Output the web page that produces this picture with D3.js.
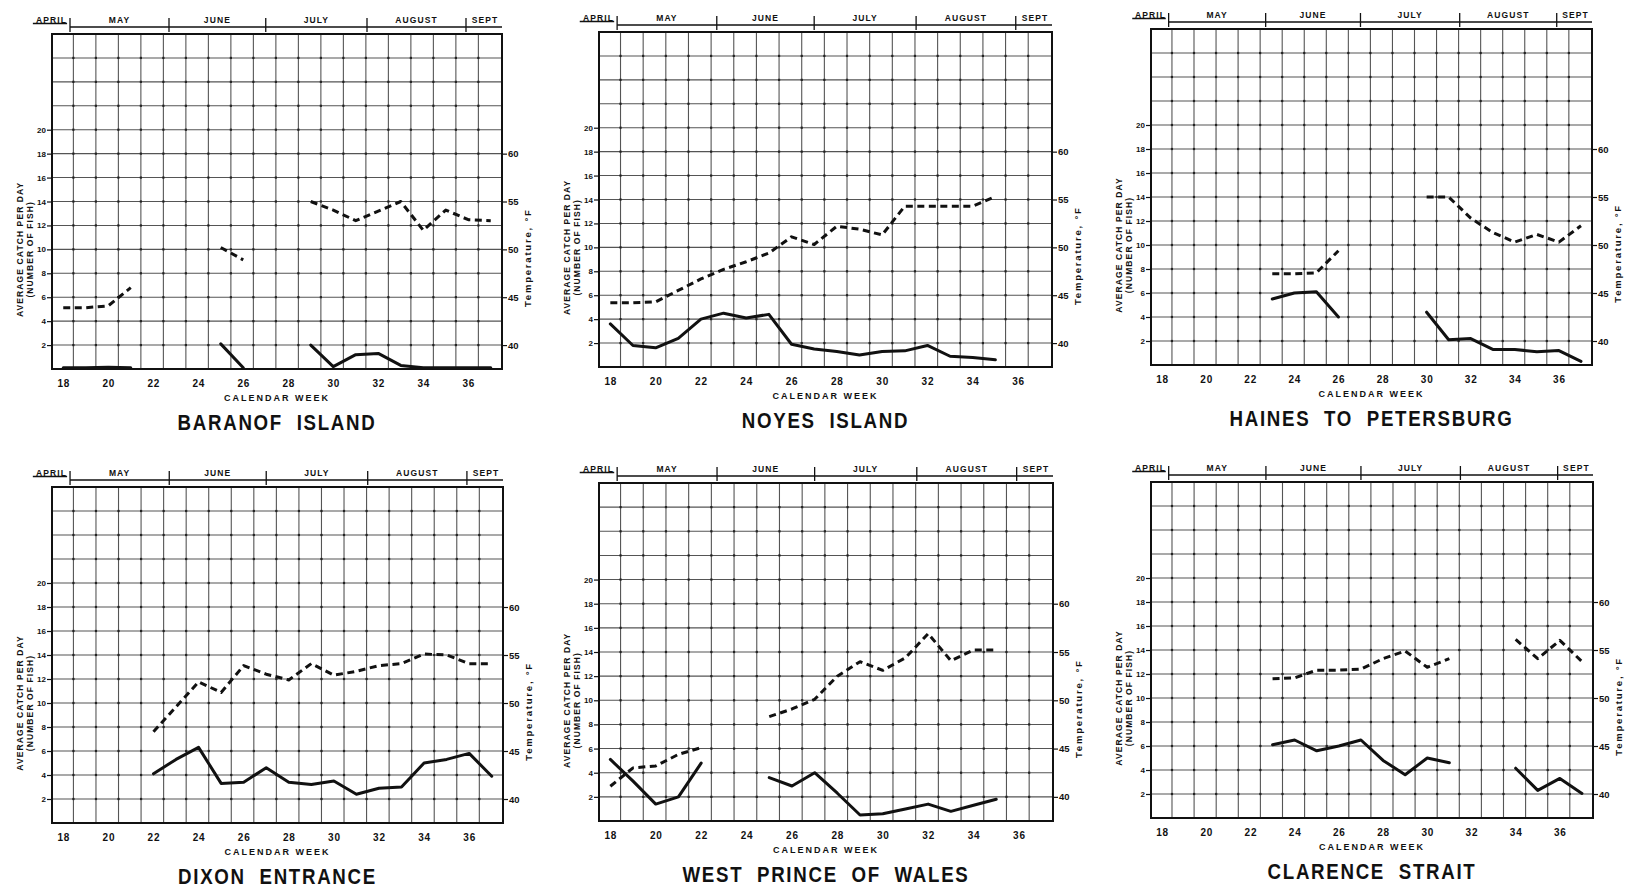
<!DOCTYPE html>
<html>
<head>
<meta charset="utf-8">
<script src="https://cdn.jsdelivr.net/npm/d3@7"></script>
<style>
  html, body { margin: 0; padding: 0; background: #fff; }
  svg { display: block; }
  text { font-family: "Liberation Sans", Arial, sans-serif; font-weight: bold; fill: #111; }
</style>
</head>
<body>
<svg id="chart" width="1633" height="887"></svg>
<script>
// ---- data ---------------------------------------------------------------
// Calendar weeks 18..37; null = no observation for that week.
const weeks = [18, 19, 20, 21, 22, 23, 24, 25, 26, 27, 28, 29, 30, 31, 32, 33, 34, 35, 36, 37];
const weekTicks = [18, 20, 22, 24, 26, 28, 30, 32, 34, 36];
const catchTicks = [2, 4, 6, 8, 10, 12, 14, 16, 18, 20];
const catchGrid = [2, 4, 6, 8, 10, 12, 14, 16, 18, 20, 22, 24, 26];
const tempTicks = [40, 45, 50, 55, 60];
const months = ["APRIL", "MAY", "JUNE", "JULY", "AUGUST", "SEPT"];
// month boundaries expressed in calendar weeks
const monthEdges = [16.65, 18.3, 22.7, 27.0, 31.5, 35.9, 37.6];

const regions = ["BARANOF ISLAND", "NOYES ISLAND", "HAINES TO PETERSBURG",
                 "DIXON ENTRANCE", "WEST PRINCE OF WALES", "CLARENCE STRAIT"];

// average catch per day (number of fish)
const baranofCatch  = [0.1, 0.1, 0.15, 0.1, null, null, null, 2.1, 0.1, null, null, 2.0, 0.2, 1.2, 1.3, 0.3, 0.1, 0.1, 0.1, 0.1];
const noyesCatch    = [3.6, 1.8, 1.6, 2.4, 4.0, 4.5, 4.1, 4.4, 1.9, 1.5, 1.3, 1.0, 1.3, 1.35, 1.8, 0.9, 0.8, 0.6, null, null];
const hainesCatch   = [null, null, null, null, null, 5.5, 6.0, 6.1, 4.0, null, null, null, 4.4, 2.1, 2.2, 1.3, 1.3, 1.1, 1.2, 0.3];
const dixonCatch    = [null, null, null, null, 4.1, 5.3, 6.3, 3.3, 3.4, 4.6, 3.4, 3.2, 3.5, 2.4, 2.9, 3.0, 5.0, 5.3, 5.8, 3.9];
const westPowCatch  = [5.1, 3.3, 1.4, 2.0, 4.8, null, null, 3.6, 2.9, 4.0, 2.3, 0.5, 0.6, 1.0, 1.4, 0.8, 1.3, 1.8, null, null];
const clarenceCatch = [null, null, null, null, null, 6.1, 6.5, 5.6, 6.0, 6.5, 4.8, 3.6, 5.0, 4.6, null, null, 4.15, 2.3, 3.3, 2.05];

// water temperature, degrees F
const baranofTemp  = [43.9, 43.9, 44.1, 46.0, null, null, null, 50.2, 48.9, null, null, 55.0, 54.1, 53.0, 54.0, 55.0, 52.0, 54.1, 53.1, 53.0];
const noyesTemp    = [44.2, 44.2, 44.3, 45.5, 46.7, 47.7, 48.5, 49.4, 51.1, 50.3, 52.2, 51.9, 51.3, 54.3, 54.3, 54.3, 54.3, 55.3, null, null];
const hainesTemp   = [null, null, null, null, null, 47.0, 47.0, 47.1, 49.4, null, null, null, 55.0, 55.0, 52.8, 51.3, 50.3, 51.1, 50.3, 52.0];
const dixonTemp    = [null, null, null, null, 47.0, 49.6, 52.2, 51.1, 53.9, 53.0, 52.4, 54.1, 52.9, 53.3, 53.9, 54.1, 55.1, 55.0, 54.1, 54.1];
const westPowTemp  = [41.1, 43.0, 43.2, 44.4, 45.1, null, null, 48.3, 49.1, 50.1, 52.5, 54.0, 53.1, 54.4, 56.9, 54.1, 55.2, 55.2, null, null];
const clarenceTemp = [null, null, null, null, null, 52.0, 52.1, 52.9, 52.9, 53.0, 54.1, 54.9, 53.2, 54.1, null, null, 56.1, 54.1, 56.0, 53.8];

const catchSeries = [baranofCatch, noyesCatch, hainesCatch, dixonCatch, westPowCatch, clarenceCatch];
const tempSeries  = [baranofTemp, noyesTemp, hainesTemp, dixonTemp, westPowTemp, clarenceTemp];

// ---- layout -------------------------------------------------------------
const frames = [
  { x: 52,   y: 34,  w: 450, h: 335 },
  { x: 599,  y: 32,  w: 453, h: 335 },
  { x: 1151, y: 29,  w: 441, h: 336 },
  { x: 52,   y: 487, w: 451, h: 336 },
  { x: 599,  y: 483, w: 454, h: 338 },
  { x: 1151, y: 482, w: 442, h: 336 }
];

const svg = d3.select("#chart");
const INK = "#111";

function drawPanel(i) {
  const F = frames[i];
  const g = svg.append("g");
  const x = d3.scaleLinear().domain([17.5, 37.5]).range([F.x, F.x + F.w]);
  const y = d3.scaleLinear().domain([0, 28]).range([F.y + F.h, F.y]);
  // temperature axis shares the grid: 40F sits on 2, each 5F spans 4 units
  const yT = d3.scaleLinear().domain([37.5, 72.5]).range([F.y + F.h, F.y]);

  // grid: vertical rules fall between week numbers
  const gridWeeks = weeks.slice(0, 19).map(w => w + 0.45);
  const grid = g.append("g").attr("stroke", "#555").attr("stroke-width", 1.1);
  grid.selectAll("line.h").data(catchGrid).join("line").attr("class", "h")
    .attr("x1", F.x).attr("x2", F.x + F.w)
    .attr("y1", d => y(d)).attr("y2", d => y(d));
  grid.selectAll("line.v").data(gridWeeks).join("line").attr("class", "v")
    .attr("x1", d => x(d)).attr("x2", d => x(d))
    .attr("y1", F.y).attr("y2", F.y + F.h);
  // small dots where the rules cross
  const pts = [];
  gridWeeks.forEach(w => catchGrid.forEach(c => pts.push([w, c])));
  g.append("g").attr("fill", "#222").selectAll("rect").data(pts).join("rect")
    .attr("x", d => x(d[0]) - 1.1).attr("y", d => y(d[1]) - 1.1)
    .attr("width", 2.2).attr("height", 2.2);

  // frame
  g.append("rect").attr("x", F.x).attr("y", F.y).attr("width", F.w).attr("height", F.h)
    .attr("fill", "none").attr("stroke", INK).attr("stroke-width", 2);

  // left axis: catch
  const axL = g.append("g").attr("transform", `translate(${F.x},0)`)
    .call(d3.axisLeft(y).tickValues(catchTicks).tickSize(5).tickPadding(1));
  axL.attr("font-family", null).attr("font-size", null);
  axL.select(".domain").remove();
  axL.selectAll("line").attr("stroke", INK).attr("stroke-width", 1.2);
  axL.selectAll("text").style("font-size", "8px");

  // right axis: temperature
  const axR = g.append("g").attr("transform", `translate(${F.x + F.w},0)`)
    .call(d3.axisRight(yT).tickValues(tempTicks).tickSize(5).tickPadding(1));
  axR.attr("font-family", null).attr("font-size", null);
  axR.select(".domain").remove();
  axR.selectAll("line").attr("stroke", INK).attr("stroke-width", 1.2);
  axR.selectAll("text").style("font-size", "9.5px");

  // bottom axis: calendar week
  const axB = g.append("g").attr("transform", `translate(0,${F.y + F.h})`)
    .call(d3.axisBottom(x).tickValues(weekTicks).tickSize(0).tickPadding(11));
  axB.attr("font-family", null).attr("font-size", null);
  axB.select(".domain").remove();
  axB.selectAll("text").style("font-size", "10px").style("letter-spacing", "0.8px");

  g.append("text").attr("x", x(27.5)).attr("y", F.y + F.h + 32)
    .attr("text-anchor", "middle").style("font-size", "9px").style("letter-spacing", "2px")
    .text("CALENDAR WEEK");

  // axis titles
  const yMid = y(10);
  g.append("text").attr("transform", `translate(${F.x - 29},${yMid}) rotate(-90)`)
    .attr("text-anchor", "middle").style("font-size", "8.5px").style("letter-spacing", "1.1px")
    .text("AVERAGE CATCH PER DAY");
  g.append("text").attr("transform", `translate(${F.x - 19},${yMid}) rotate(-90)`)
    .attr("text-anchor", "middle").style("font-size", "8.5px").style("letter-spacing", "1.1px")
    .text("(NUMBER OF FISH)");
  g.append("text").attr("transform", `translate(${F.x + F.w + 29},${y(9.3)}) rotate(-90)`)
    .attr("text-anchor", "middle").style("font-size", "9.5px").style("letter-spacing", "1.8px")
    .text("Temperature, \u00B0F");

  // month header
  const hy = F.y - 7;
  g.append("line").attr("x1", x(monthEdges[0])).attr("x2", x(18.17))
    .attr("y1", hy - 3.5).attr("y2", hy - 3.5).attr("stroke", INK).attr("stroke-width", 1.4);
  g.append("line").attr("x1", x(monthEdges[1])).attr("x2", F.x + F.w)
    .attr("y1", hy).attr("y2", hy).attr("stroke", INK).attr("stroke-width", 1.4);
  g.selectAll("line.mt").data(monthEdges.slice(1, 6)).join("line").attr("class", "mt")
    .attr("x1", d => x(d)).attr("x2", d => x(d))
    .attr("y1", F.y - 16).attr("y2", F.y - 2).attr("stroke", INK).attr("stroke-width", 1.3);
  g.selectAll("text.mn").data(months).join("text").attr("class", "mn")
    .attr("x", (d, k) => x((monthEdges[k] + monthEdges[k + 1]) / 2))
    .attr("y", F.y - 11.5).attr("text-anchor", "middle")
    .style("font-size", "8.5px").style("letter-spacing", "1.1px")
    .text(d => d);

  // data lines
  const catchPts = weeks.map((w, k) => [w, catchSeries[i][k]]);
  const tempPts = weeks.map((w, k) => [w, tempSeries[i][k]]);
  const lineC = d3.line().defined(d => d[1] != null).x(d => x(d[0])).y(d => y(d[1]));
  const lineT = d3.line().defined(d => d[1] != null).x(d => x(d[0])).y(d => yT(d[1]));
  g.append("path").datum(tempPts).attr("d", lineT)
    .attr("fill", "none").attr("stroke", INK).attr("stroke-width", 3)
    .attr("stroke-dasharray", "7,4.5").attr("stroke-linejoin", "round");
  g.append("path").datum(catchPts).attr("d", lineC)
    .attr("fill", "none").attr("stroke", INK).attr("stroke-width", 3)
    .attr("stroke-linejoin", "round").attr("stroke-linecap", "round");

  // region title (condensed lettering)
  g.append("g").attr("transform", `translate(${F.x + F.w / 2},${F.y + F.h + 61}) scale(0.85,1)`)
    .append("text").attr("text-anchor", "middle")
    .style("font-size", "22px").style("letter-spacing", "2px").style("word-spacing", "8px")
    .text(regions[i]);
}

regions.forEach((r, i) => drawPanel(i));
</script>
</body>
</html>
